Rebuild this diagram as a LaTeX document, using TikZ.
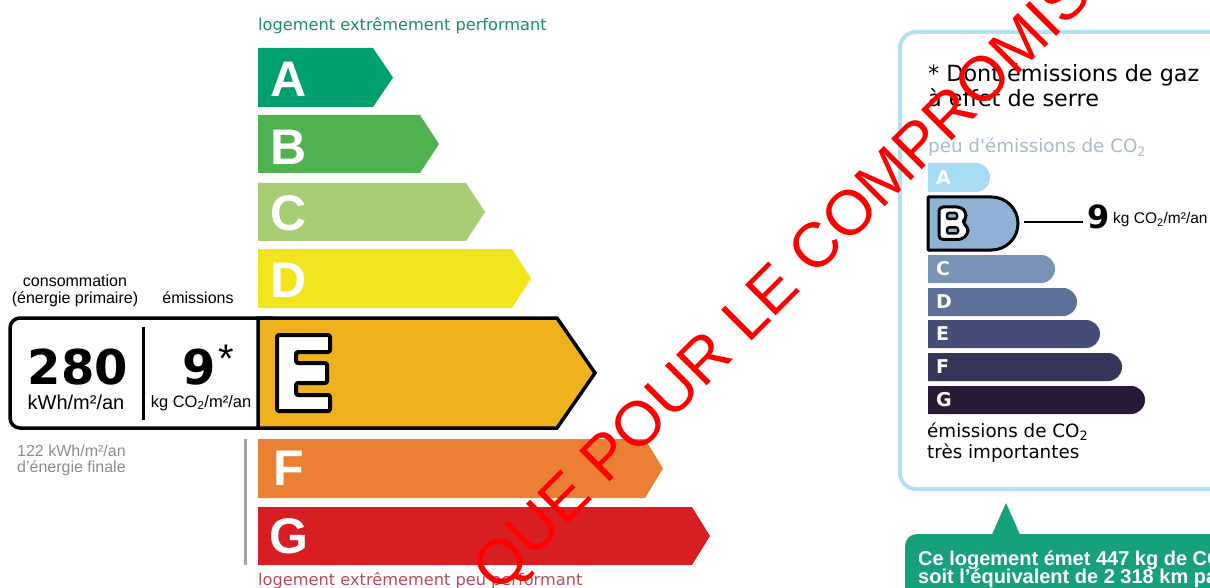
\documentclass[tikz,border=0pt]{standalone}
\usepackage{fontspec}
\setmainfont{Liberation Sans}
\newfontfamily\verd{DejaVu Sans}
\newcommand\fsz[1]{\fontsize{#1}{#1}\selectfont}

\definecolor{dpeA}{HTML}{00A06E}
\definecolor{dpeB}{HTML}{50B150}
\definecolor{dpeC}{HTML}{A6CC74}
\definecolor{dpeD}{HTML}{F2E51E}
\definecolor{dpeE}{HTML}{EFB21C}
\definecolor{dpeF}{HTML}{EB8034}
\definecolor{dpeG}{HTML}{D71E22}
\definecolor{gesA}{HTML}{A8DBF4}
\definecolor{gesB}{HTML}{8DB2D6}
\definecolor{gesC}{HTML}{7893B5}
\definecolor{gesD}{HTML}{5C6F98}
\definecolor{gesE}{HTML}{464E78}
\definecolor{gesF}{HTML}{37345A}
\definecolor{gesG}{HTML}{281A36}
\colorlet{highgreen}{dpeA!80!black!90}
\definecolor{lowred}{HTML}{B94A5A}
\definecolor{finalgray}{HTML}{8C8C8C}
\definecolor{panelblue}{HTML}{B5DFF3}
\definecolor{peublue}{HTML}{A8B9CB}
\definecolor{callout}{HTML}{16A07B}

\tikzset{
  lbl/.style={inner sep=0pt,anchor=base},
  lblw/.style={inner sep=0pt,anchor=base west},
  dpeletter/.style={inner sep=0pt,text=white,font=\fsz{50}\bfseries},
  gesletter/.style={inner sep=0pt,anchor=west,text=white,font=\verd\fsz{19}\bfseries},
  gesbar/.style={line width=3pt},
}

\begin{document}
\begin{tikzpicture}[x=1pt,y=-1pt,line join=round]
  \useasboundingbox (0,0) rectangle (1210,588);
  \clip (0,0) rectangle (1210,588);

  % energy label
  \node[lblw,text=highgreen,font=\verd\fsz{16.2}] (perfhigh) at (258,31) {logement extrêmement performant};

  \fill[dpeA] (258,48) -- (373,48) -- (393,77.5) -- (373,107) -- (258,107) -- cycle;
  \fill[dpeB] (258,115) -- (420,115) -- (439,144) -- (420,173) -- (258,173) -- cycle;
  \fill[dpeC] (258,183) -- (466,183) -- (485,212) -- (466,241) -- (258,241) -- cycle;
  \fill[dpeD] (258,249) -- (512,249) -- (531,278.5) -- (512,308) -- (258,308) -- cycle;
  \fill[dpeF] (258,439) -- (645,439) -- (663,468.5) -- (645,498) -- (258,498) -- cycle;
  \fill[dpeG] (258,507) -- (692,507) -- (710,536) -- (692,565) -- (258,565) -- cycle;

  \node[dpeletter] (la) at (289,79) {A};
  \node[dpeletter] (lb) at (289,147) {B};
  \node[dpeletter] (lc) at (289,213) {C};
  \node[dpeletter] (ld) at (289,280) {D};
  \node[dpeletter] (lf) at (289,468) {F};
  \node[dpeletter] (lg) at (289,536) {G};

  \fill[black!35] (244,439) rectangle (247,565);

  % current class
  \draw[line width=3.5pt,fill=white,rounded corners=10pt] (10,318) rectangle (280,428);
  \draw[line width=3.5pt,fill=dpeE,line join=miter] (258,318) -- (557,318) -- (595,373) -- (557,428) -- (258,428) -- cycle;
  \draw[line width=4pt,fill=white,rounded corners=2pt] (277,335) -- (330,335) -- (330,352) -- (296,352) -- (296,363)
    -- (327,363) -- (327,383) -- (296,383) -- (296,395) -- (330,395) -- (330,411) -- (277,411) -- cycle;
  \draw[line width=3pt] (143,327) -- (143,420);

  \node[lbl,font=\fsz{16}] (consolbl) at (75,286) {consommation};
  \node[lbl,font=\fsz{16}] (primlbl) at (75,303) {(énergie primaire)};
  \node[lbl,font=\fsz{16}] (emislbl) at (198,303) {émissions};

  \node[lbl,font=\verd\bfseries\fsz{48}] (conso) at (78,384) {280};
  \node[lbl,font=\fsz{20}] (consounit) at (76,409) {kWh/m²/an};
  \node[lbl,font=\verd\bfseries\fsz{48}] (emis) at (199,384) {9};
  \node[inner sep=0pt,anchor=north,font=\fsz{40}] (star) at (226,345) {*};
  \node[lbl,font=\fsz{16.5}] (emisunit) at (201,407) {kg CO\textsubscript{2}/m²/an};

  \node[lblw,text=finalgray,font=\fsz{16}] (finale1) at (17,456) {122 kWh/m²/an};
  \node[lblw,text=finalgray,font=\fsz{16}] (finale2) at (17,472) {d'énergie finale};

  \node[lblw,text=lowred,font=\verd\fsz{16.2}] (perflow) at (258,585) {logement extrêmement peu performant};

  % greenhouse gas panel
  \draw[panelblue,line width=4pt,rounded corners=16pt] (900,32) rectangle (1260,489);
  \node[lblw,font=\verd\fsz{22.3}] (note1) at (928,82) {* Dont émissions de gaz};
  \node[lblw,font=\verd\fsz{22.3}] (note2) at (928,107) {à effet de serre};
  \node[lblw,text=peublue,font=\verd\fsz{18.3}] (peu) at (928,153) {peu d'émissions de CO\textsubscript{2}};

  \fill[gesA] (928,163) -- (975.5,163) arc[start angle=-90,end angle=90,radius=14.5] -- (928,192) -- cycle;
  \draw[gesbar,fill=gesB] (928,197) -- (991.5,197) arc[start angle=-90,end angle=90,radius=26.5] -- (928,250) -- cycle;
  \fill[gesC] (928,255) -- (1041,255) arc[start angle=-90,end angle=90,radius=14] -- (928,283) -- cycle;
  \fill[gesD] (928,288) -- (1063,288) arc[start angle=-90,end angle=90,radius=14] -- (928,316) -- cycle;
  \fill[gesE] (928,320) -- (1086,320) arc[start angle=-90,end angle=90,radius=14] -- (928,348) -- cycle;
  \fill[gesF] (928,353) -- (1108,353) arc[start angle=-90,end angle=90,radius=14] -- (928,381) -- cycle;
  \fill[gesG] (928,386) -- (1131,386) arc[start angle=-90,end angle=90,radius=14] -- (928,414) -- cycle;

  % outlined B of the current class
  \draw[line width=3pt,fill=white,rounded corners=4pt] (939,207) -- (961,207) -- (966,212) -- (966,219) -- (962,222.5)
    -- (968,227) -- (968,234) -- (962,239.5) -- (939,239.5) -- cycle;
  \draw[line width=2.5pt,fill=gesB,rounded corners=2pt] (947,213) rectangle (957,219);
  \draw[line width=2.5pt,fill=gesB,rounded corners=2pt] (947,227.5) rectangle (958,233.5);

  \node[gesletter] (ga) at (936,178) {A};
  \node[gesletter] (gc) at (936,269) {C};
  \node[gesletter] (gd) at (936,302) {D};
  \node[gesletter] (ge) at (936,334) {E};
  \node[gesletter] (gf) at (936,367) {F};
  \node[gesletter] (gg) at (936,400) {G};

  \coordinate (btip) at (1024,222);
  \node[lblw,font=\verd\bfseries\fsz{32}] (gesval) at (1087,229) {9};
  \node[lblw,font=\fsz{15.5}] (gesunit) at (1113,224) {kg CO\textsubscript{2}/m²/an};
  \draw[line width=2pt] (btip) -- ([xshift=-4pt]btip -| gesval.west);

  \node[lblw,font=\verd\fsz{18.3}] (veryhigh1) at (927,437) {émissions de CO\textsubscript{2}};
  \node[lblw,font=\verd\fsz{18.3}] (veryhigh2) at (927,458) {très importantes};

  % callout
  \fill[callout,rounded corners=12pt] (905,534) rectangle (1260,640);
  \fill[callout] (992,534.5) -- (1006,503) -- (1020,534.5) -- cycle;
  \node[lblw,text=white,font=\bfseries\fsz{20}] (msg1) at (918,565) {Ce logement émet 447 kg de CO\textsubscript{2}};
  \node[lblw,text=white,font=\bfseries\fsz{20}] (msg2) at (918,583) {soit l’équivalent de 2 318 km par};

  % watermark
  \node[inner sep=0pt,rotate=45,text=red,font=\fsz{63}] (stamp) at (785,285) {QUE POUR LE COMPROMIS};
\end{tikzpicture}
\end{document}
